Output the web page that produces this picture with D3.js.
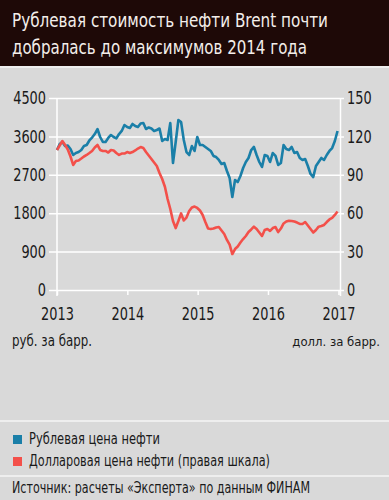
<!DOCTYPE html>
<html>
<head>
<meta charset="utf-8">
<script src="https://cdn.jsdelivr.net/npm/d3@7"></script>
<style>
    body { margin: 0; background: #d9d9d9; }
    svg { display: block; }
</style>
</head>
<body>
<div id="chart"></div>
<script>
// weekly-ish readings, one every 14 days from startDate
var startDate = "2013-01-01";
var stepDays = 14;

var rubPrice = [
    3281, 3422, 3469, 3375, 3387, 3305, 3164, 3211, 3234, 3281,
    3375, 3398, 3504, 3574, 3656, 3773, 3586, 3469, 3469, 3563,
    3633, 3586, 3555, 3656, 3727, 3867, 3820, 3797, 3891, 3844,
    3820, 3902, 3914, 3773, 3809, 3785, 3727, 3750, 3785, 3492,
    3539, 3516, 3914, 2977, 3469, 3984, 3938, 3516, 3234, 3164,
    3375, 3258, 3586, 3398, 3398, 3352, 3305, 3258, 3141, 3117,
    3047, 2953, 2977, 2789, 2625, 2180, 2578, 2531, 2672, 2859,
    3000, 3094, 3281, 3352, 3164, 3000, 2883, 3164, 3141, 3000,
    3211, 3141, 2930, 2977, 3398, 3305, 3281, 3352, 3211, 3234,
    3094, 3047, 3070, 2906, 2719, 2648, 2906, 3000, 3094, 3047,
    3164, 3258, 3328, 3492, 3727
];

var usdPrice = [
    109.4, 112.9, 116.4, 113.3, 109.8, 104.3, 97.7, 100.8, 101.2, 102.7,
    104.3, 105.5, 107.0, 108.6, 111.3, 113.3, 109.4, 108.6, 108.6, 107.4,
    109.4, 109.0, 107.0, 105.5, 106.6, 106.6, 107.8, 107.0, 107.8, 109.0,
    110.5, 111.7, 110.9, 107.8, 105.1, 102.3, 99.6, 96.9, 91.4, 86.7,
    80.7, 71.1, 63.3, 53.9, 48.4, 53.9, 59.8, 54.3, 56.6, 61.7,
    64.5, 65.2, 64.1, 62.1, 58.6, 53.1, 48.0, 47.7, 48.0, 48.8,
    49.2, 46.5, 43.8, 39.1, 35.5, 28.1, 32.0, 34.0, 37.1, 39.8,
    42.2, 45.3, 47.3, 49.5, 47.7, 44.9, 42.2, 46.9, 47.7, 46.1,
    48.4, 49.2, 45.3, 48.0, 52.0, 53.5, 54.1, 53.9, 53.5, 52.7,
    51.6, 51.6, 53.1, 50.4, 47.7, 44.9, 46.9, 49.5, 50.0, 50.8,
    53.1, 55.1, 56.3, 58.6, 61.3
];

var leftTicks = [0, 900, 1800, 2700, 3600, 4500];
var rightTicks = [0, 30, 60, 90, 120, 150];
var yearTicks = ["2013", "2014", "2015", "2016", "2017"];

var titleLines = ["Рублевая стоимость нефти Brent почти", "добралась до максимумов 2014 года"];
var seriesNames = ["Рублевая цена нефти", "Долларовая цена нефти (правая шкала)"];
var unitLeft = "руб. за барр.";
var unitRight = "долл. за барр.";
var sourceText = "Источник: расчеты «Эксперта» по данным ФИНАМ";

var width = 389, height = 500;
var FONT = '"Liberation Sans Narrow", "DejaVu Sans Condensed", "Roboto", sans-serif';
var BLUE = "#1a7fa8", RED = "#f3504a";
var INK = "#1a1a1a";

var parseDate = d3.timeParse("%Y-%m-%d");
var parseYear = d3.timeParse("%Y");
var dates = rubPrice.map(function(d, i){ return d3.timeDay.offset(parseDate(startDate), i * stepDays); });

var x = d3.scaleTime()
    .domain([parseYear(yearTicks[0]), parseYear(yearTicks[yearTicks.length - 1])])
    .range([57, 338.5]);
var yLeft = d3.scaleLinear().domain([0, 4500]).range([290, 98]);
var yRight = d3.scaleLinear().domain([0, 150]).range([290, 98]);

var svg = d3.select("#chart").append("svg")
    .attr("width", width)
    .attr("height", height)
    .style("font-family", FONT);

svg.append("rect").attr("width", width).attr("height", height).attr("fill", "#d9d9d9");

// title block
svg.append("rect").attr("width", width).attr("height", 66).attr("fill", "#1e0907");
svg.append("line").attr("x1", 0).attr("x2", width).attr("y1", 67).attr("y2", 67)
    .attr("stroke", "#f4f4f4").attr("stroke-width", 1.5);
svg.selectAll(".title").data(titleLines).enter().append("text")
    .attr("class", "title")
    .attr("x", 12)
    .attr("y", function(d, i){ return 27 + i * 26.5; })
    .attr("fill", "#f3eeea")
    .attr("font-size", 19.5)
    .attr("textLength", function(d, i){ return i === 0 ? 316 : 295; })
    .attr("lengthAdjust", "spacingAndGlyphs")
    .text(function(d){ return d; });

function squeeze(sel){
    sel.attr("fill", INK)
        .attr("font-size", 18)
        .style("font-family", FONT)
        .attr("textLength", function(){ return this.textContent.length * 8.2; })
        .attr("lengthAdjust", "spacingAndGlyphs");
}

// grid + left labels
var gLeft = svg.append("g")
    .attr("transform", "translate(49,0)")
    .call(d3.axisLeft(yLeft).tickValues(leftTicks).tickSize(-295).tickPadding(3).tickFormat(d3.format("d")));
gLeft.select(".domain").remove();
gLeft.selectAll(".tick line").attr("stroke", "#fff").attr("stroke-width", 1.5);
gLeft.selectAll(".tick text").call(squeeze);

var gRight = svg.append("g")
    .attr("transform", "translate(344,0)")
    .call(d3.axisRight(yRight).tickValues(rightTicks).tickSize(0).tickPadding(3));
gRight.select(".domain").remove();
gRight.selectAll(".tick text").call(squeeze);

// vertical frame lines
svg.selectAll(".vline").data([x.range()[0], x.range()[1] + 2]).enter().append("line")
    .attr("class", "vline")
    .attr("x1", function(d){ return d; })
    .attr("x2", function(d){ return d; })
    .attr("y1", yLeft(4500))
    .attr("y2", yLeft(0) + 6)
    .attr("stroke", "#fff")
    .attr("stroke-width", 1.5);

var gBottom = svg.append("g")
    .attr("transform", "translate(0," + yLeft(0) + ")")
    .call(d3.axisBottom(x).tickValues(yearTicks.map(parseYear)).tickSize(5).tickPadding(12).tickFormat(d3.timeFormat("%Y")));
gBottom.select(".domain").remove();
gBottom.selectAll(".tick line").attr("stroke", "#fff").attr("stroke-width", 1.5);
gBottom.selectAll(".tick text").call(squeeze);

// series
var rubLine = d3.line()
    .x(function(d, i){ return x(dates[i]); })
    .y(function(d){ return yLeft(d); });
var usdLine = d3.line()
    .x(function(d, i){ return x(dates[i]); })
    .y(function(d){ return yRight(d); });

svg.append("path").datum(rubPrice)
    .attr("d", rubLine)
    .attr("fill", "none")
    .attr("stroke", BLUE)
    .attr("stroke-width", 2.6)
    .attr("stroke-linejoin", "round");
svg.append("path").datum(usdPrice)
    .attr("d", usdLine)
    .attr("fill", "none")
    .attr("stroke", RED)
    .attr("stroke-width", 2.6)
    .attr("stroke-linejoin", "round");

// units
svg.append("text").attr("x", 12).attr("y", 346)
    .attr("font-size", 15).attr("fill", INK)
    .attr("textLength", 80).attr("lengthAdjust", "spacingAndGlyphs")
    .text(unitLeft);
svg.append("text").attr("x", 380).attr("y", 346)
    .attr("text-anchor", "end")
    .attr("font-size", 13).attr("fill", INK)
    .text(unitRight);

// legend
svg.selectAll(".sep").data([421, 476]).enter().append("line")
    .attr("class", "sep")
    .attr("x1", 0).attr("x2", width)
    .attr("y1", function(d){ return d; }).attr("y2", function(d){ return d; })
    .attr("stroke", "#f4f4f4").attr("stroke-width", 1.5);

var legend = svg.selectAll(".legend").data(seriesNames).enter().append("g")
    .attr("class", "legend")
    .attr("transform", function(d, i){ return "translate(0," + (444 + i * 22) + ")"; });
legend.append("rect")
    .attr("x", 13).attr("y", -9).attr("width", 9).attr("height", 9)
    .attr("fill", function(d, i){ return i === 0 ? BLUE : RED; });
legend.append("text")
    .attr("x", 29)
    .attr("font-size", 15.5)
    .attr("fill", INK)
    .attr("textLength", function(d, i){ return i === 0 ? 131 : 241; })
    .attr("lengthAdjust", "spacingAndGlyphs")
    .text(function(d){ return d; });

svg.append("text").attr("x", 12).attr("y", 493)
    .attr("font-size", 15).attr("fill", INK)
    .attr("textLength", 298).attr("lengthAdjust", "spacingAndGlyphs")
    .text(sourceText);
</script>
</body>
</html>
